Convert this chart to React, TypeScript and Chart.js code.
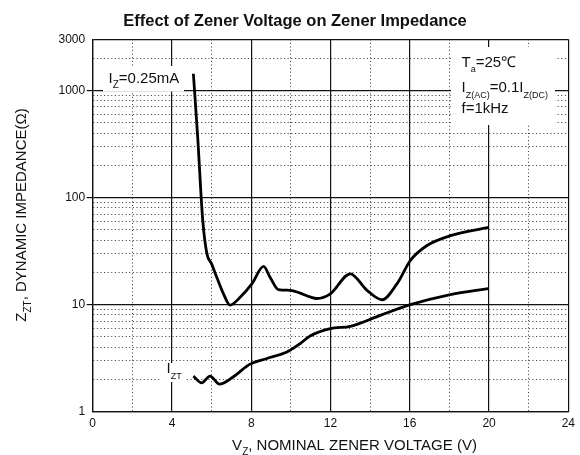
import React, { useEffect, useRef } from 'react';
import { Chart, registerables } from 'chart.js';

Chart.register(...registerables);

// ---- data ----
const xTickValues = [0, 2, 4, 6, 8, 10, 12, 14, 16, 18, 20, 22, 24];
const xLabeledTicks = [0, 4, 8, 12, 16, 20, 24];
const yTickValues = [
  1, 2, 3, 4, 5, 6, 7, 8, 9,
  10, 20, 30, 40, 50, 60, 70, 80, 90,
  100, 200, 300, 400, 500, 600, 700, 800, 900,
  1000, 2000, 3000,
];
const yLabeledTicks = [1, 10, 100, 1000, 3000];
const yMajorLines = [1, 10, 100, 1000, 3000];
const xMajorLines = [0, 4, 8, 12, 16, 20, 24];

// Iz = 0.25mA curve
const vzLow = [5.08, 5.3, 5.55, 5.76, 6.0, 6.26, 6.6, 6.93, 7.44, 8.03, 8.62, 8.95, 9.37, 9.96, 10.47, 10.97, 11.31, 11.99, 13.0, 13.84, 14.6, 15.35, 16.03, 16.87, 18.05, 19.98];
const zzLow = [1430, 360, 62, 30, 24, 18, 12.6, 9.9, 11.7, 15.6, 22.7, 18, 13.8, 13.6, 12.8, 11.8, 11.4, 12.6, 19.4, 13.6, 11.1, 15.6, 25.8, 35.6, 44, 52.6];

// Izt curve
const vzZT = [5.08, 5.5, 5.92, 6.4, 7.1, 7.94, 8.79, 9.8, 10.47, 10.97, 11.99, 13.0, 14.51, 16.03, 18.05, 19.98];
const zzZT = [2.15, 1.86, 2.15, 1.81, 2.12, 2.78, 3.14, 3.61, 4.33, 5.1, 5.97, 6.27, 7.94, 9.98, 12.4, 14.1];

const titleText = 'Effect of Zener Voltage on Zener Impedance';
const FAMILY = "'Liberation Sans', Arial, Helvetica, sans-serif";
const DOT = [1, 2.6];

type Seg = { t: string; sub?: boolean };

function drawRich(
  ctx: CanvasRenderingContext2D,
  segs: Seg[],
  x: number,
  y: number,
  size: number,
  subSize: number,
  subDy: number,
  align: 'left' | 'center',
) {
  const mainFont = `${size}px ${FAMILY}`;
  const subFont = `${subSize}px ${FAMILY}`;
  let w = 0;
  for (const s of segs) {
    ctx.font = s.sub ? subFont : mainFont;
    w += ctx.measureText(s.t).width;
  }
  let cx = align === 'center' ? x - w / 2 : x;
  ctx.textAlign = 'left';
  ctx.textBaseline = 'alphabetic';
  for (const s of segs) {
    ctx.font = s.sub ? subFont : mainFont;
    ctx.fillText(s.t, cx, y + (s.sub ? subDy : 0));
    cx += ctx.measureText(s.t).width;
  }
}

const annotationPlugin = {
  id: 'zenerAnnotations',
  beforeDatasetsDraw(chart: any) {
    const ctx: CanvasRenderingContext2D = chart.ctx;
    ctx.save();
    ctx.fillStyle = '#ffffff';
    ctx.fillRect(103, 66, 81, 25.5);
    ctx.fillRect(451, 47, 104, 78);
    ctx.fillRect(161, 363, 25, 19);
    ctx.fillStyle = '#111';
    drawRich(ctx, [{ t: 'I' }, { t: 'Z', sub: true }, { t: '=0.25mA' }], 108.5, 82.5, 15, 10, 5.5, 'left');
    drawRich(ctx, [{ t: 'T' }, { t: 'a', sub: true }, { t: '=25℃' }], 461.5, 66.7, 15, 9, 5.5, 'left');
    drawRich(
      ctx,
      [{ t: 'I' }, { t: 'Z(AC)', sub: true }, { t: '=0.1I' }, { t: 'Z(DC)', sub: true }],
      461.5, 91.5, 15, 9, 6, 'left',
    );
    drawRich(ctx, [{ t: 'f=1kHz' }], 461.5, 113.3, 15, 10, 5.5, 'left');
    drawRich(ctx, [{ t: 'I' }, { t: 'ZT', sub: true }], 166.5, 373, 15, 9, 6, 'left');
    ctx.restore();
  },
  afterDraw(chart: any) {
    const ctx: CanvasRenderingContext2D = chart.ctx;
    ctx.save();
    ctx.fillStyle = '#111';
    ctx.font = `bold 16.5px ${FAMILY}`;
    ctx.textAlign = 'center';
    ctx.textBaseline = 'alphabetic';
    ctx.fillText(titleText, 295, 26);
    drawRich(
      ctx,
      [{ t: 'V' }, { t: 'Z', sub: true }, { t: ', NOMINAL ZENER VOLTAGE (V)' }],
      354.5, 450, 15, 10, 5, 'center',
    );
    ctx.translate(25.5, 215);
    ctx.rotate(-Math.PI / 2);
    drawRich(
      ctx,
      [{ t: 'Z' }, { t: 'ZT', sub: true }, { t: ', DYNAMIC IMPEDANCE(Ω)' }],
      0, 0, 15, 10, 5, 'center',
    );
    ctx.restore();
  },
};

export default function App() {
  const canvasRef = useRef<HTMLCanvasElement | null>(null);

  useEffect(() => {
    const canvas = canvasRef.current;
    if (!canvas) return;
    const chart = new Chart(canvas, {
      type: 'scatter',
      data: {
        datasets: [
          {
            label: 'Iz=0.25mA',
            data: vzLow.map((x, i) => ({ x, y: zzLow[i] })),
            showLine: true,
            borderColor: '#000',
            borderWidth: 2.8,
            pointRadius: 0,
            cubicInterpolationMode: 'monotone',
          },
          {
            label: 'Izt',
            data: vzZT.map((x, i) => ({ x, y: zzZT[i] })),
            showLine: true,
            borderColor: '#000',
            borderWidth: 2.8,
            pointRadius: 0,
            cubicInterpolationMode: 'monotone',
          },
        ],
      },
      options: {
        responsive: false,
        animation: false,
        devicePixelRatio: 1,
        layout: { padding: { left: 0, right: 11, top: 39.3, bottom: 0 } },
        plugins: {
          legend: { display: false },
          tooltip: { enabled: false },
          title: { display: false },
        },
        scales: {
          x: {
            type: 'linear',
            min: 0,
            max: 24,
            afterBuildTicks: (s: any) => {
              s.ticks = xTickValues.map((v) => ({ value: v }));
            },
            afterFit: (s: any) => {
              s.height = 43.3;
            },
            ticks: {
              autoSkip: false,
              maxRotation: 0,
              padding: 5,
              color: '#111',
              font: { size: 12, family: FAMILY },
              callback: (v: any) => (xLabeledTicks.includes(Number(v)) ? String(v) : ''),
            },
            grid: {
              drawTicks: false,
              color: (c: any) => (c.tick && !xMajorLines.includes(c.tick.value) ? '#333' : '#111'),
              lineWidth: (c: any) => (c.tick && !xMajorLines.includes(c.tick.value) ? 1 : 1.2),
            },
            border: {
              display: true,
              color: '#111',
              width: 1.3,
              dash: (c: any) => (c.tick && !xMajorLines.includes(c.tick.value) ? DOT : []),
            },
          },
          y: {
            type: 'logarithmic',
            min: 1,
            max: 3000,
            afterBuildTicks: (s: any) => {
              s.ticks = yTickValues.map((v) => ({ value: v }));
            },
            afterFit: (s: any) => {
              s.width = 92.7;
            },
            ticks: {
              autoSkip: false,
              padding: 1.5,
              color: '#111',
              font: { size: 12, family: FAMILY },
              callback: (v: any) => (yLabeledTicks.includes(Number(v)) ? String(v) : ''),
            },
            grid: {
              drawTicks: true,
              tickLength: 6,
              tickColor: (c: any) => (c.tick && [10, 100, 1000].includes(c.tick.value) ? '#111' : 'rgba(0,0,0,0)'),
              color: (c: any) => (c.tick && !yMajorLines.includes(c.tick.value) ? '#333' : '#111'),
              lineWidth: (c: any) => (c.tick && !yMajorLines.includes(c.tick.value) ? 1 : 1.2),
            },
            border: {
              display: true,
              color: '#111',
              width: 1.3,
              dash: (c: any) => (c.tick && !yMajorLines.includes(c.tick.value) ? DOT : []),
            },
          },
        },
      },
      plugins: [annotationPlugin],
    } as any);
    return () => {
      chart.destroy();
    };
  }, []);

  return (
    <div style={{ position: 'fixed', left: 0, top: 0, width: 580, height: 455, background: '#fff' }}>
      <canvas ref={canvasRef} width={580} height={455} style={{ display: 'block', width: 580, height: 455 }} />
    </div>
  );
}
